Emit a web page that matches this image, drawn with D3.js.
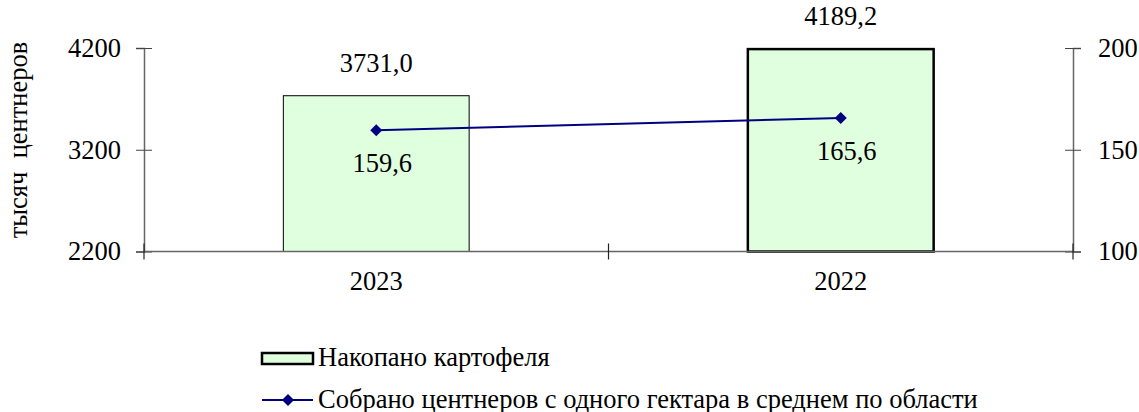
<!DOCTYPE html>
<html lang="ru">
<head>
  <meta charset="UTF-8">
  <title>Картофель</title>
  <style>
    body { margin: 0; background: #fff; }
  </style>
</head>
<body>
  <section class="plot"></section>

  <script src="https://cdn.jsdelivr.net/npm/d3@7"></script>
  <script>
    // Data
    const years = ["2023", "2022"];
    const harvest = [3731.0, 4189.2];
    const yieldPerHa = [159.6, 165.6];
    const leftTicks = [2200, 3200, 4200];
    const rightTicks = [100, 150, 200];
    const harvestName = "Накопано картофеля";
    const yieldName = "Собрано центнеров с одного гектара в среднем по области";
    const yTitle = "тысяч  центнеров";

    const fmt = v => v.toFixed(1).replace(".", ",");
    const FONT = "Liberation Serif";
    const FS = 26.5;

    const width = 1139, height = 412;
    const plot = { left: 144, right: 1073, top: 48, bottom: 251.5 };

    const svg = d3.select(".plot")
      .append("svg")
      .attr("width", width)
      .attr("height", height)
      .attr("font-family", FONT)
      .attr("font-size", FS);

    const x = d3.scaleBand().domain(years).range([plot.left, plot.right]).padding(0);
    const yL = d3.scaleLinear().domain([2200, 4200]).range([plot.bottom, plot.top]);
    const yR = d3.scaleLinear().domain([100, 200]).range([plot.bottom, plot.top]);
    const barW = x.bandwidth() * 0.4;

    // bars
    svg.append("g")
      .selectAll("rect")
      .data(years)
      .enter()
      .append("rect")
        .attr("x", d => x(d) + (x.bandwidth() - barW) / 2)
        .attr("y", (d, i) => yL(harvest[i]))
        .attr("width", barW)
        .attr("height", (d, i) => plot.bottom - yL(harvest[i]))
        .attr("fill", "#dfffdf")
        .attr("stroke", "#000")
        .attr("stroke-width", (d, i) => i === 1 ? 2.5 : 1);

    // bar labels
    svg.append("g")
      .selectAll("text")
      .data(years)
      .enter()
      .append("text")
        .attr("x", d => x(d) + x.bandwidth() / 2)
        .attr("y", (d, i) => yL(harvest[i]) - 24)
        .attr("text-anchor", "middle")
        .text((d, i) => fmt(harvest[i]));

    // axes
    const axisL = svg.append("g")
      .attr("transform", `translate(${plot.left},0)`)
      .call(d3.axisLeft(yL).tickValues(leftTicks).tickSize(8).tickPadding(15).tickFormat(d3.format("d")));
    const axisR = svg.append("g")
      .attr("transform", `translate(${plot.right},0)`)
      .call(d3.axisRight(yR).tickValues(rightTicks).tickSize(8).tickPadding(17).tickFormat(d3.format("d")));
    [axisL, axisR].forEach(a => {
      a.attr("font-family", FONT).attr("font-size", FS);
      a.select(".domain").attr("stroke", "#666").attr("stroke-width", 1.5);
      a.selectAll(".tick line").attr("x1", -8).attr("x2", 8).attr("stroke", "#444");
      a.selectAll("text").attr("fill", "#000");
    });

    svg.append("line")
      .attr("x1", plot.left).attr("x2", plot.right)
      .attr("y1", plot.bottom).attr("y2", plot.bottom)
      .attr("stroke", "#666").attr("stroke-width", 1.5);

    const bounds = [plot.left, ...years.map(d => x(d) + x.bandwidth())];
    svg.append("g")
      .selectAll("line")
      .data(bounds)
      .enter()
      .append("line")
        .attr("x1", d => d).attr("x2", d => d)
        .attr("y1", plot.bottom - 8).attr("y2", plot.bottom + 8)
        .attr("stroke", "#222").attr("stroke-width", 1.2);

    svg.append("g")
      .selectAll("text")
      .data(years)
      .enter()
      .append("text")
        .attr("x", d => x(d) + x.bandwidth() / 2)
        .attr("y", 290)
        .attr("text-anchor", "middle")
        .text(d => d);

    // y title
    svg.append("text")
      .attr("transform", "translate(27,140) rotate(-90)")
      .attr("text-anchor", "middle")
      .style("white-space", "pre")
      .text(yTitle);

    // line series
    const pts = years.map((d, i) => [x(d) + x.bandwidth() / 2, yR(yieldPerHa[i])]);
    svg.append("path")
      .attr("d", d3.line()(pts))
      .attr("fill", "none")
      .attr("stroke", "#000080")
      .attr("stroke-width", 2);
    // diamond marker = square turned 45deg
    const diamond = d3.symbol().type(d3.symbolSquare).size(72);
    svg.append("g")
      .selectAll("path")
      .data(pts)
      .enter()
      .append("path")
        .attr("d", diamond)
        .attr("transform", d => `translate(${d[0]},${d[1]}) rotate(45)`)
        .attr("fill", "#000080");
    svg.append("g")
      .selectAll("text")
      .data(pts)
      .enter()
      .append("text")
        .attr("x", d => d[0] + 6)
        .attr("y", d => d[1] + 42)
        .attr("text-anchor", "middle")
        .text((d, i) => fmt(yieldPerHa[i]));

    // legend
    const lg = svg.append("g");
    lg.append("rect")
      .attr("x", 262).attr("y", 353).attr("width", 51).attr("height", 11)
      .attr("fill", "#dfffdf").attr("stroke", "#000").attr("stroke-width", 2.5);
    lg.append("text").attr("x", 318).attr("y", 366).text(harvestName);
    lg.append("line")
      .attr("x1", 262).attr("x2", 313).attr("y1", 400).attr("y2", 400)
      .attr("stroke", "#000080").attr("stroke-width", 2);
    lg.append("path").attr("d", diamond).attr("transform", "translate(288,400) rotate(45)").attr("fill", "#000080");
    lg.append("text").attr("x", 318).attr("y", 408).text(yieldName);
  </script>
</body>
</html>
